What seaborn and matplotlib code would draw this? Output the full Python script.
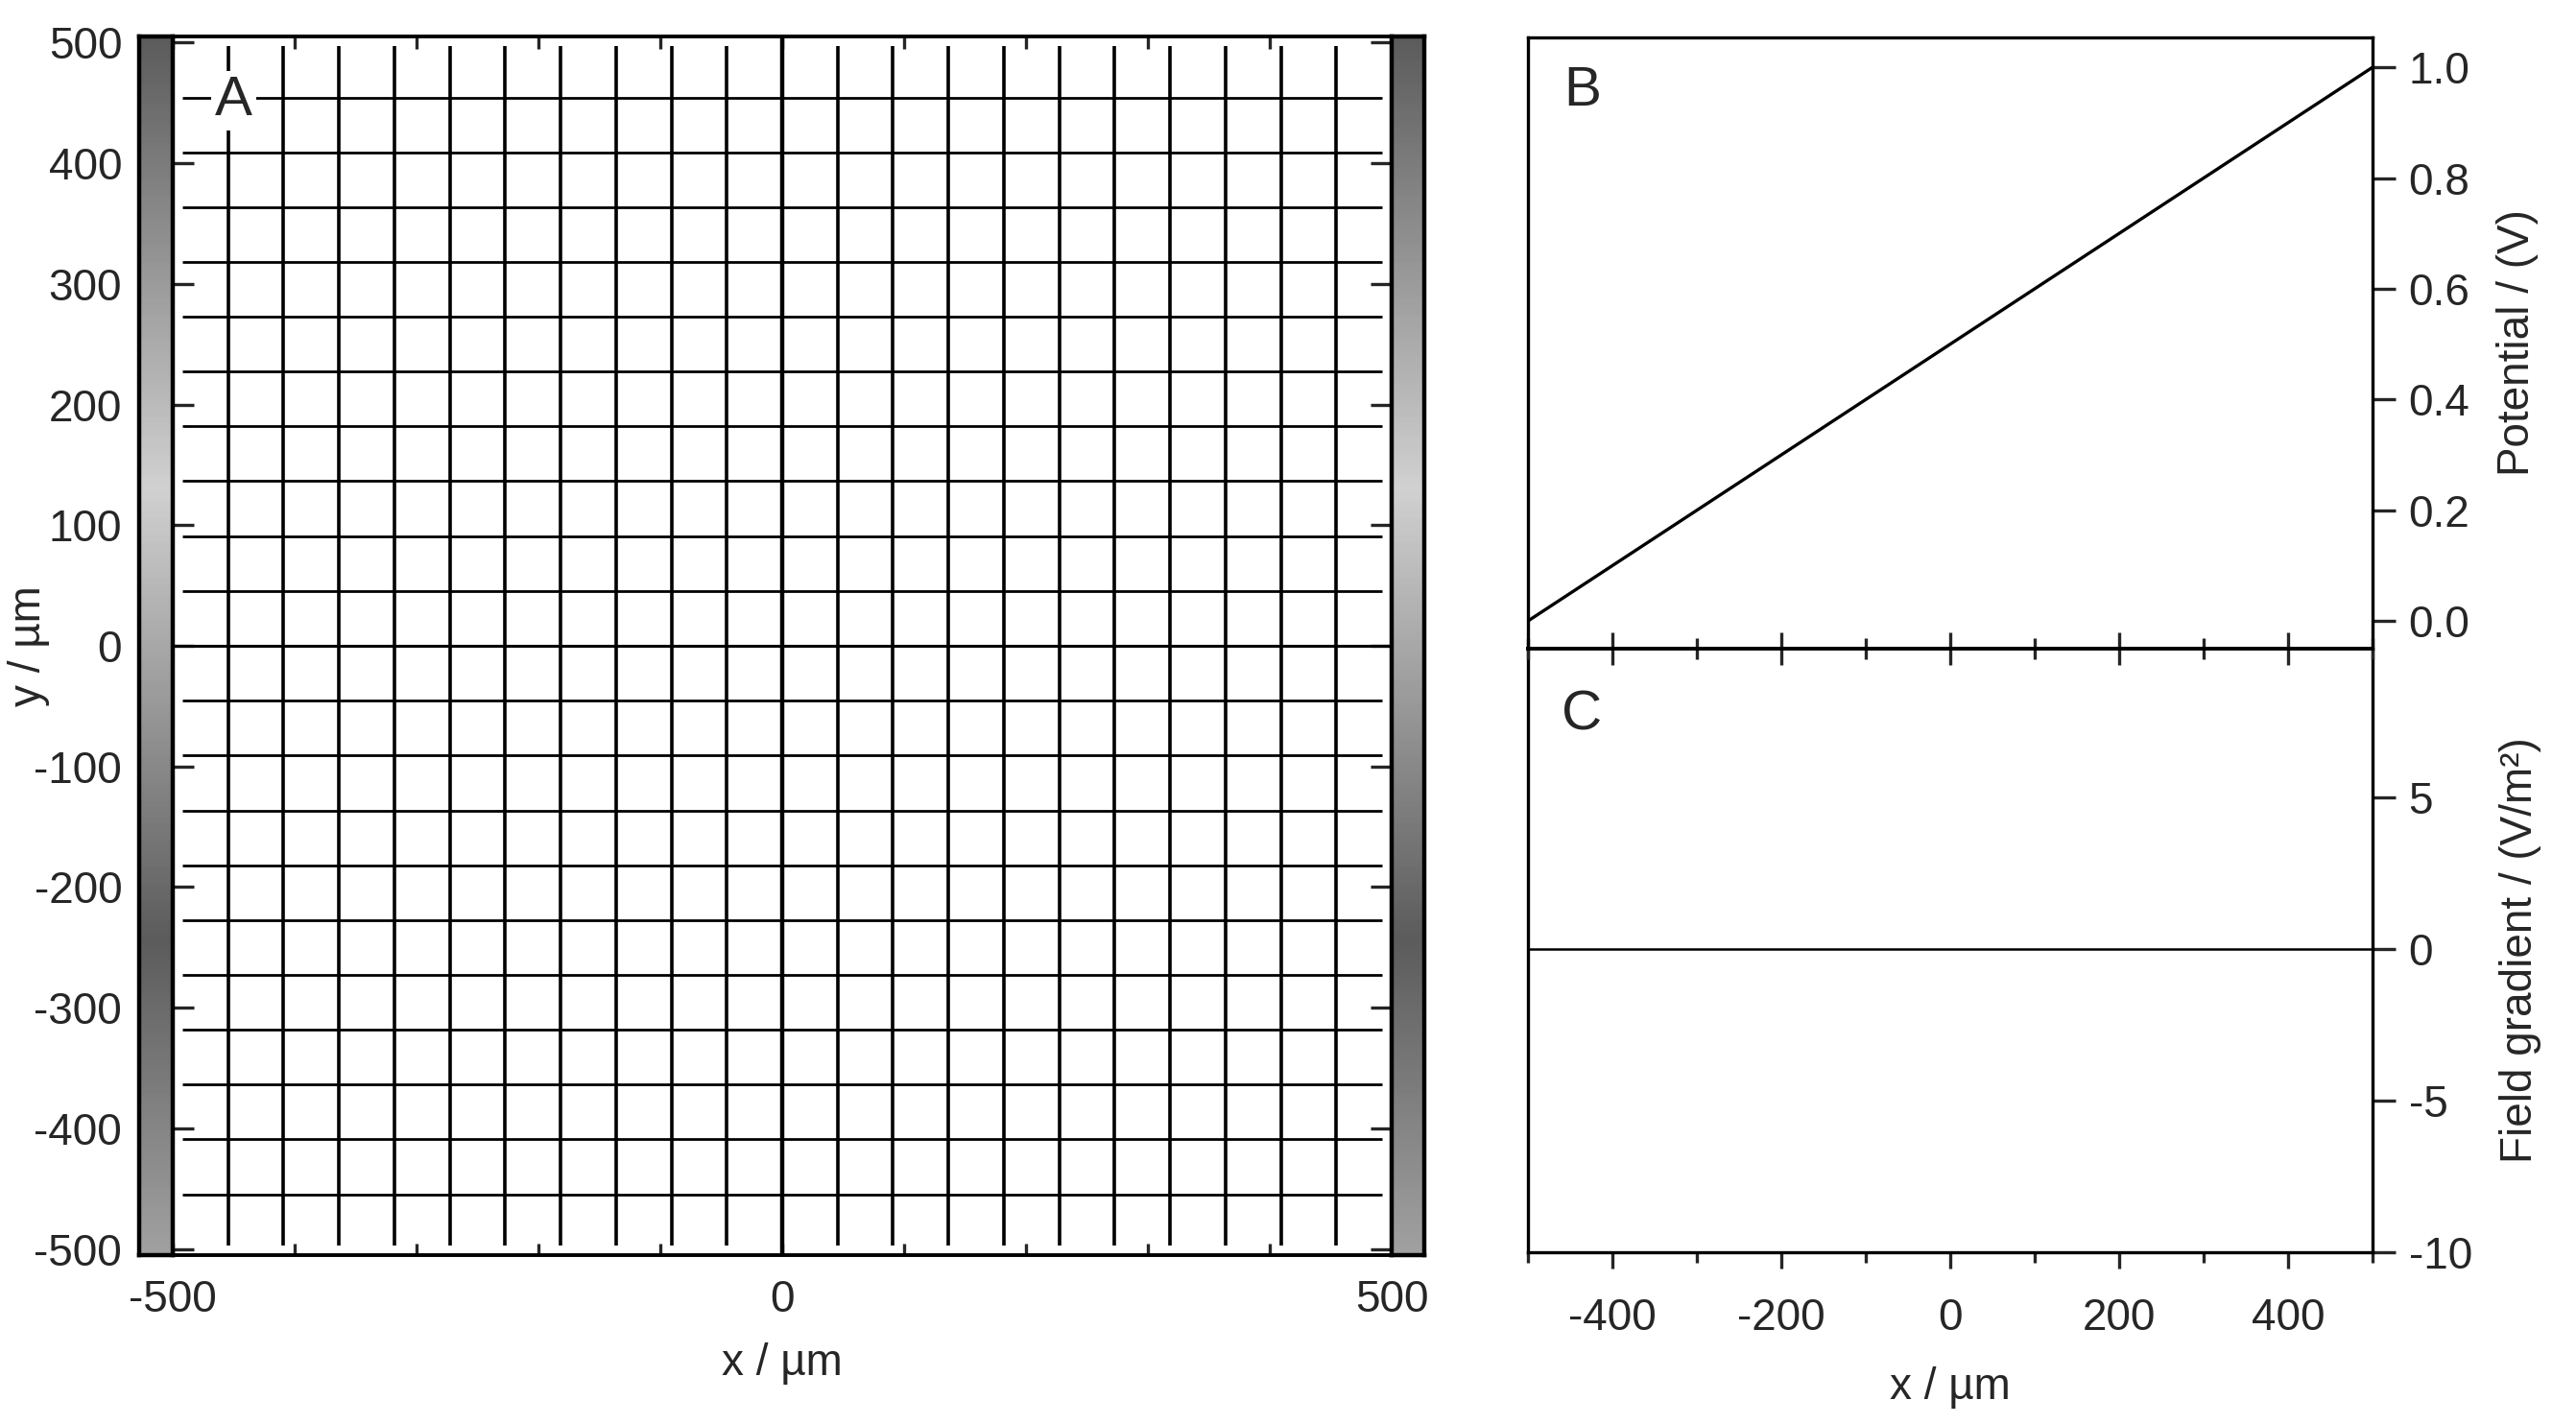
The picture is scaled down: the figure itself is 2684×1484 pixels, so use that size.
import matplotlib
matplotlib.use("Agg")
import matplotlib.pyplot as plt
from matplotlib.colors import LinearSegmentedColormap
from matplotlib.ticker import MultipleLocator
import numpy as np
import seaborn as sns

# panel A: mesh line positions (µm)
mesh_pos = [-454.5, -409.1, -363.6, -318.2, -272.7, -227.3, -181.8, -136.4, -90.9, -45.5, 0.0,
            45.5, 90.9, 136.4, 181.8, 227.3, 272.7, 318.2, 363.6, 409.1, 454.5]
mesh_h_span = [-492, 492]   # x range of horizontal mesh lines
mesh_v_span = [-497, 497]   # y range of vertical mesh lines
# electrode shading along y (grey level)
electrode_y = [505, 131, -245, -505]
electrode_grey = [0.36, 0.82, 0.36, 0.63]

# panel B: potential
pot_x = [-500, 500]
pot_v = [0.0, 1.0]
# panel C: field gradient
grad_x = [-500, 500]
grad_v = [0.0, 0.0]

a_xticks = [-500, 0, 500]
a_yticks = [500, 400, 300, 200, 100, 0, -100, -200, -300, -400, -500]
b_yticks = [0.0, 0.2, 0.4, 0.6, 0.8, 1.0]
c_yticks = [-10, -5, 0, 5]
c_xticks = [-400, -200, 0, 200, 400]

sns.set_theme(style="white")
plt.rcParams['font.family'] = ['Liberation Sans', 'DejaVu Sans']
plt.rcParams['axes.unicode_minus'] = False
plt.rcParams['axes.edgecolor'] = 'black'

W, H = 2684, 1484
fig = plt.figure(figsize=(W / 200, H / 200), dpi=200)
fs = 16.5


def fx(px):
    return px / W


def fy(px):
    return 1 - px / H


# ---- panel A ----
top_a, bot_a = 38, 1308
ax_a = fig.add_axes([fx(180), fy(bot_a), fx(1450 - 180), (bot_a - top_a) / H])
ax_a.set_xlim(-500, 500)
ax_a.set_ylim(-505, 505)
ax_a.hlines(mesh_pos, mesh_h_span[0], mesh_h_span[1], color='black', lw=1.0)
ax_a.vlines(mesh_pos, mesh_v_span[0], mesh_v_span[1], color='black', lw=1.3)
ax_a.hlines([0], -500, 500, color='black', lw=1.1)
ax_a.vlines([0], -505, 505, color='black', lw=1.6)
ax_a.text(-450, 452, 'A', fontsize=21, ha='center', va='center',
          bbox=dict(facecolor='white', edgecolor='none', pad=1.5))
ax_a.set_xticks(a_xticks)
ax_a.xaxis.set_minor_locator(MultipleLocator(100))
ax_a.set_yticks(a_yticks)
ax_a.tick_params(axis='y', direction='in', length=8, width=1.2, left=True, right=True,
                 labelsize=fs, pad=19)
ax_a.tick_params(axis='x', which='both', direction='in', length=4.5, width=1.2, top=True,
                 bottom=True, labelsize=fs, pad=9)
ax_a.set_xlabel('x / µm', fontsize=fs, labelpad=8)
ax_a.set_ylabel('y / µm', fontsize=fs)
ax_a.yaxis.set_label_coords(-0.101, 0.5)
for s in ax_a.spines.values():
    s.set_linewidth(1.4)
    s.set_color('black')

# electrodes
stops = [(505 - v) / 1010 for v in electrode_y]
cmap = LinearSegmentedColormap.from_list(
    'electrode', [(p, (g, g, g)) for p, g in zip(stops, electrode_grey)])
yy = np.linspace(0, 1, 400).reshape(-1, 1)
for left_px, width_px in [(145, 35), (1450, 34)]:
    ax_e = fig.add_axes([fx(left_px), fy(bot_a), fx(width_px), (bot_a - top_a) / H])
    ax_e.imshow(yy, cmap=cmap, vmin=0, vmax=1, aspect='auto', extent=(0, 1, 0, 1))
    ax_e.set_xticks([])
    ax_e.set_yticks([])
    for s in ax_e.spines.values():
        s.set_linewidth(1.6)
        s.set_color('black')

# ---- panel C (drawn first so B's shared edge sits on top) ----
ax_c = fig.add_axes([fx(1592), fy(1305), fx(2472 - 1592), (1305 - 676) / H])
sns.lineplot(x=grad_x, y=grad_v, ax=ax_c, color='black', lw=0.9)
ax_c.set_xlim(-500, 500)
ax_c.set_ylim(-10, 9.9)
ax_c.yaxis.tick_right()
ax_c.yaxis.set_label_position('right')
ax_c.set_yticks(c_yticks)
ax_c.set_xticks(c_xticks)
ax_c.xaxis.set_minor_locator(MultipleLocator(100))
ax_c.tick_params(axis='x', which='major', direction='out', length=6, width=1.2,
                 labelsize=fs, pad=11, bottom=True, top=False)
ax_c.tick_params(axis='x', which='minor', direction='out', length=4, width=1.2,
                 bottom=True, top=False)
ax_c.tick_params(axis='y', direction='out', length=8.5, width=1.2, labelsize=fs, pad=5,
                 right=True, left=False)
ax_c.set_xlabel('x / µm', fontsize=fs, labelpad=10)
ax_c.set_ylabel('Field gradient / (V/m²)', fontsize=fs, labelpad=10)
ax_c.text(0.064, 0.89, 'C', transform=ax_c.transAxes, fontsize=21, ha='center', va='center')
for s in ax_c.spines.values():
    s.set_linewidth(1.2)
    s.set_color('black')
ax_c.spines['top'].set_visible(False)

# ---- panel B ----
ax_b = fig.add_axes([fx(1592), fy(676), fx(2472 - 1592), (676 - 39) / H])
ax_b.patch.set_alpha(0)
sns.lineplot(x=pot_x, y=pot_v, ax=ax_b, color='black', lw=1.2)
ax_b.set_xlim(-500, 500)
ax_b.set_ylim(-0.05, 1.054)
ax_b.yaxis.tick_right()
ax_b.yaxis.set_label_position('right')
ax_b.set_yticks(b_yticks)
ax_b.set_yticklabels([f'{v:.1f}' for v in b_yticks])
ax_b.set_xticks(c_xticks)
ax_b.xaxis.set_minor_locator(MultipleLocator(100))
ax_b.tick_params(axis='x', which='major', direction='inout', length=12, width=1.2,
                 labelbottom=False, bottom=True, top=False)
ax_b.tick_params(axis='x', which='minor', direction='inout', length=8, width=1.2,
                 bottom=True, top=False)
ax_b.tick_params(axis='y', direction='out', length=8.5, width=1.2, labelsize=fs, pad=5,
                 right=True, left=False)
ax_b.set_ylabel('Potential / (V)', fontsize=fs, labelpad=10)
ax_b.text(0.064, 0.912, 'B', transform=ax_b.transAxes, fontsize=21, ha='center', va='center')
for s in ax_b.spines.values():
    s.set_linewidth(1.2)
    s.set_color('black')
ax_b.spines['bottom'].set_linewidth(1.4)

fig.savefig('out.png', dpi=200)
